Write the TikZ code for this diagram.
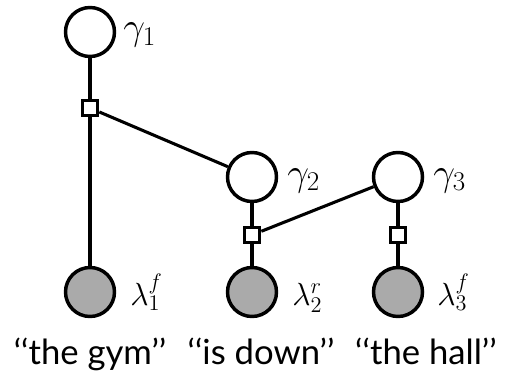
\RequirePackage{fix-cm}
\documentclass[tikz,border=0pt]{standalone}
\usepackage{fontspec}
\newfontfamily\wordfont{Lato}
\definecolor{obsgray}{RGB}{170,170,170}
\begin{document}
\begin{tikzpicture}[x=0.75pt,y=-0.75pt,
  var/.style={circle,draw,line width=2.6pt,minimum size=36.75pt,inner sep=0pt},
  obs/.style={var,fill=obsgray},
  fac/.style={rectangle,draw,line width=2.4pt,fill=white,minimum size=11.6pt,inner sep=0pt},
  edge/.style={line width=2.3pt},
  glabel/.style={anchor=base west,inner sep=0pt,font=\fontsize{29}{34}\selectfont},
  llabel/.style={anchor=base west,inner sep=0pt,font=\fontsize{24}{29}\selectfont},
  word/.style={anchor=base,inner sep=0pt,font=\wordfont\fontsize{26}{31}\selectfont}]
\useasboundingbox (0,0) rectangle (505,381);
% variables
\node[var] (g1) at (90,32) {};
\node[var] (g2) at (252,177) {};
\node[var] (g3) at (398,177) {};
% factors
\node[fac] (f1) at (90,108) {};
\node[fac] (f2) at (252,235) {};
\node[fac] (f3) at (398,235) {};
% observed
\node[obs] (l1) at (90,292) {};
\node[obs] (l2) at (252,292) {};
\node[obs] (l3) at (398,292) {};
% edges
\draw[edge] (g1) -- (f1);
\draw[edge] (f1) -- (l1);
\draw[edge] (f1) -- (g2);
\draw[edge] (g2) -- (f2);
\draw[edge] (f2) -- (l2);
\draw[edge] (f2) -- (g3);
\draw[edge] (g3) -- (f3);
\draw[edge] (f3) -- (l3);
% labels
\node[glabel] (tg1) at (123,40) {$\gamma_1$};
\node[glabel] (tg2) at (287,185) {$\gamma_2$};
\node[glabel] (tg3) at (433,185) {$\gamma_3$};
\node[llabel] (tl1) at (130,305) {$\lambda_1^f$};
\node[llabel] (tl2) at (292,305) {$\lambda_2^r$};
\node[llabel] (tl3) at (437,305) {$\lambda_3^f$};
% words
\node[word] (w1) at (90,364) {‘‘the gym’’};
\node[word] (w2) at (261,364) {‘‘is down’’};
\node[word] (w3) at (426,364) {‘‘the hall’’};
\end{tikzpicture}
\end{document}
